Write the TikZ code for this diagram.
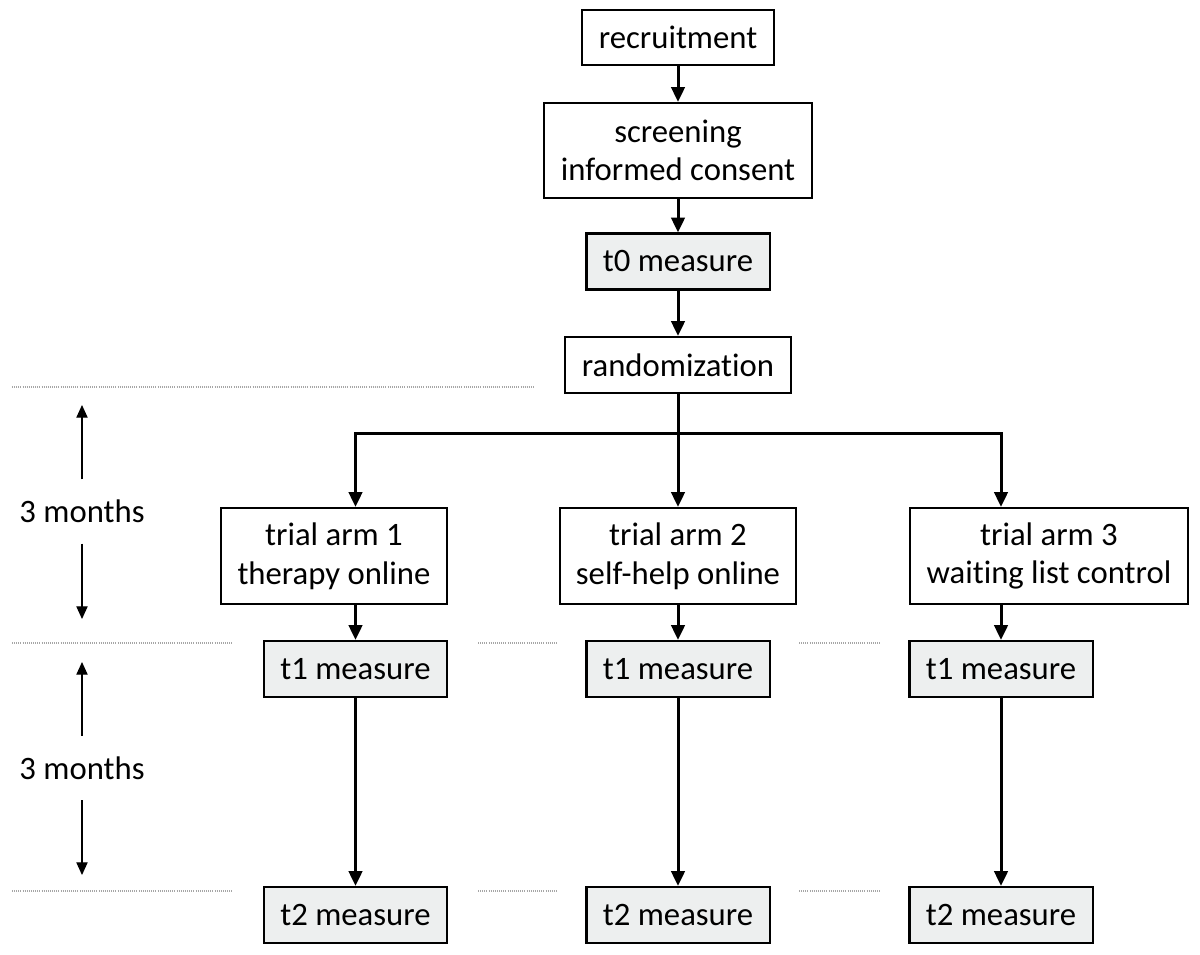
\documentclass[tikz,border=0pt]{standalone}
\usepackage{fontspec}
\setmainfont{Carlito}[Ligatures={NoCommon,NoContextual,NoRequired}, Contextuals=NoAlternate]
\usepackage{xcolor}
\usetikzlibrary{arrows.meta}
\definecolor{measuregray}{HTML}{EDEFEF}
\newcommand{\tisplit}{t\kern0pt i}

\begin{document}
\begin{tikzpicture}[x=0.01cm, y=-0.01cm,
    font=\fontsize{9.3}{11}\selectfont,
    box/.style={draw, line width=0.6pt, align=center, inner sep=0pt, minimum height=0.55cm},
    measure/.style={box, fill=measuregray, minimum width=1.83cm, minimum height=0.56cm},
    flowarrow/.style={line width=0.85pt, -{Triangle[length=4.2pt, width=3.8pt]}},
    periodarrow/.style={line width=0.35pt, -{Triangle[length=3.6pt, width=3.2pt]}},
    periodline/.style={gray!70, line width=0.35pt, dash pattern=on 0.25pt off 0.35pt}]
    \useasboundingbox (0,0) rectangle (1200,954);

    % enrolment
    \node[box, minimum width=1.92cm] (recruit) at (678,37.5) {recruitment};
    \node[box, minimum width=2.68cm, minimum height=0.95cm] (screen) at (678,150.5) {screening\\informed consent};
    \node[measure] (t0) at (678,261.5) {t0 measure};
    \node[box, minimum width=2.26cm, minimum height=0.56cm] (rand) at (678,365) {randomiza\tisplit on};
    \draw[flowarrow] (recruit) -- (screen);
    \draw[flowarrow] (screen) -- (t0);
    \draw[flowarrow] (t0) -- (rand);

    % trial arms
    \node[box, minimum width=2.26cm, minimum height=0.96cm] (arm1) at (334,556) {trial arm 1\\therapy online};
    \node[box, minimum width=2.36cm, minimum height=0.96cm] (arm2) at (678,556) {trial arm 2\\self-help online};
    \node[box, minimum width=2.78cm, minimum height=0.96cm] (arm3) at (1049,556) {trial arm 3\\wai\tisplit ng list control};

    \foreach \i/\x in {1/355.5, 2/678, 3/1001}{
        \node[measure] (t1\i) at (\x,669) {t1 measure};
        \node[measure] (t2\i) at (\x,915) {t2 measure};
    }

    \coordinate (split) at (678,433);
    \draw[line width=0.85pt] (rand.south) -- (split);
    \foreach \i in {1,2,3}{
        \draw[flowarrow] (split) -| (t1\i |- arm\i.north);
        \draw[flowarrow] (t1\i |- arm\i.south) -- (t1\i.north);
        \draw[flowarrow] (t1\i.south) -- (t2\i.north);
    }

    % time lines
    \draw[periodline] (12,387) -- (535,387);
    \foreach \y in {643,891}{
        \draw[periodline] (12,\y) -- (233,\y);
        \draw[periodline] (478,\y) -- (557,\y);
        \draw[periodline] (799,\y) -- (881,\y);
    }

    % 3 months
    \foreach \n/\y/\ytop/\ybot in {a/511.5/405/619, b/768/662/875}{
        \node[inner sep=0pt, minimum height=0.63cm] (months\n) at (82,\y) {3 months};
        \coordinate (up\n) at (82,\ytop);
        \coordinate (down\n) at (82,\ybot);
        \draw[periodarrow] (months\n.north) -- (up\n);
        \draw[periodarrow] (months\n.south) -- (down\n);
    }
\end{tikzpicture}
\end{document}
